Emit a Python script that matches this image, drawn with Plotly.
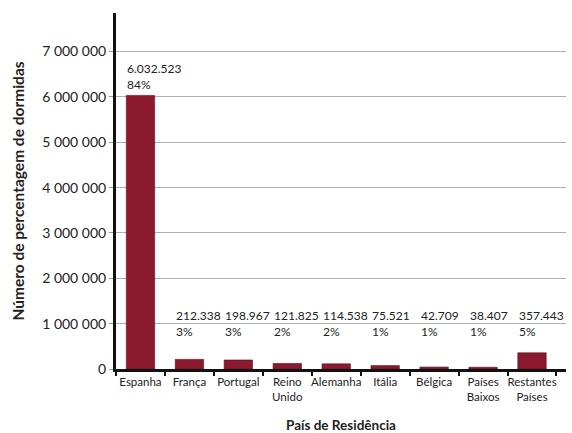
import plotly.graph_objects as go

# Dormidas por país de residência
paises = ["Espanha", "França", "Portugal", "Reino<br>Unido", "Alemanha",
          "Itália", "Bélgica", "Países<br>Baixos", "Restantes<br>Países"]
dormidas = [6032523, 212338, 198967, 121825, 114538, 75521, 42709, 38407, 357443]
percentagens = [84, 3, 3, 2, 2, 1, 1, 1, 5]
y_ticks = [0, 1000000, 2000000, 3000000, 4000000, 5000000, 6000000, 7000000]

BAR_COLOR = "#8c1a2e"
FONT = "Lato"


def fmt_pt(v):
    return f"{v:,}".replace(",", ".")


def fmt_space(v):
    return f"{v:,}".replace(",", " ")


fig = go.Figure()
fig.add_trace(go.Bar(
    x=paises, y=dormidas,
    marker=dict(color=BAR_COLOR, line=dict(color="#5a0f1c", width=0.6)),
    width=0.58,
    hoverinfo="skip",
))

# value / share labels: above tall bars, at a common floor for small ones
label_floor = 600000
for p, v, pc in zip(paises, dormidas, percentagens):
    fig.add_annotation(
        x=p, y=max(v, label_floor), xref="x", yref="y",
        text=f"{fmt_pt(v)}<br>{pc}%",
        showarrow=False, xanchor="left", yanchor="bottom",
        xshift=-15, yshift=1, align="left",
        font=dict(family=FONT, size=12, color="#222"),
    )

fig.update_layout(
    width=572, height=433,
    margin=dict(l=116, r=6, t=13, b=64),
    paper_bgcolor="white", plot_bgcolor="white",
    showlegend=False,
    font=dict(family=FONT, color="#222"),
    xaxis=dict(
        showline=True, linecolor="#111", linewidth=3,
        ticks="outside", tickson="boundaries", ticklen=4, tickwidth=2, tickcolor="#111",
        tickangle=0, automargin=False,
        tickfont=dict(size=11.5, family=FONT),
        title=dict(text="<b>País de Residência</b>", font=dict(size=13.5, family=FONT), standoff=20),
        showgrid=False,
    ),
    yaxis=dict(
        range=[0, 7.85e6],
        tickvals=y_ticks, ticktext=[fmt_space(t) for t in y_ticks],
        showline=True, linecolor="#111", linewidth=3,
        ticks="outside", ticklen=4, tickcolor="#999",
        tickfont=dict(size=14, family=FONT),
        showgrid=True, gridcolor="#b0b0b0", gridwidth=1,
        zeroline=False, automargin=False,
        title=dict(text="<b>Número de percentagem de dormidas</b>", font=dict(size=15.5, family=FONT), standoff=14),
    ),
    bargap=0.42,
)

fig.write_html("out.html")
